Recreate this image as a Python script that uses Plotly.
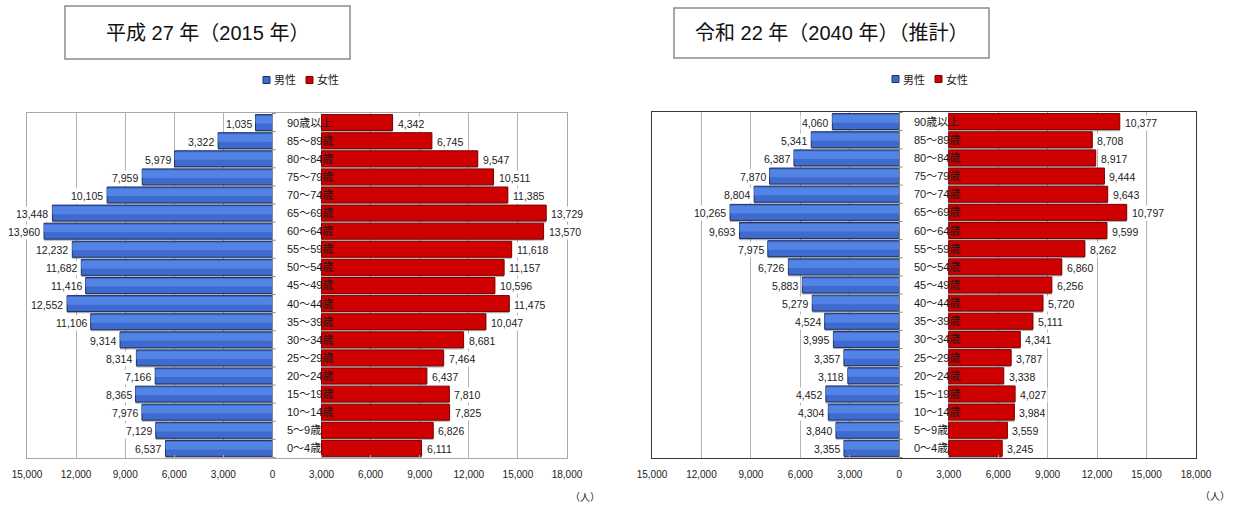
import plotly.graph_objects as go

# ---------------- data ----------------
ages = ["90歳以上", "85～89歳", "80～84歳", "75～79歳", "70～74歳", "65～69歳",
        "60～64歳", "55～59歳", "50～54歳", "45～49歳", "40～44歳", "35～39歳",
        "30～34歳", "25～29歳", "20～24歳", "15～19歳", "10～14歳", "5～9歳", "0～4歳"]

male_2015 = [1035, 3322, 5979, 7959, 10105, 13448, 13960, 12232, 11682, 11416,
             12552, 11106, 9314, 8314, 7166, 8365, 7976, 7129, 6537]
female_2015 = [4342, 6745, 9547, 10511, 11385, 13729, 13570, 11618, 11157, 10596,
               11475, 10047, 8681, 7464, 6437, 7810, 7825, 6826, 6111]

male_2040 = [4060, 5341, 6387, 7870, 8804, 10265, 9693, 7975, 6726, 5883,
             5279, 4524, 3995, 3357, 3118, 4452, 4304, 3840, 3355]
female_2040 = [10377, 8708, 8917, 9444, 9643, 10797, 9599, 8262, 6860, 6256,
               5720, 5111, 4341, 3787, 3338, 4027, 3984, 3559, 3245]

titles = ["平成 27 年（2015 年）", "令和 22 年（2040 年）（推計）"]
legend_names = ["男性", "女性"]
unit_label = "（人）"
tick_vals = [-15000, -12000, -9000, -6000, -3000, 0, 3000, 6000, 9000, 12000, 15000, 18000]
tick_text = ["15,000", "12,000", "9,000", "6,000", "3,000", "0",
             "3,000", "6,000", "9,000", "12,000", "15,000", "18,000"]
GAP = 3000          # female bars start after the central label gap
X_RANGE = [-15000, 18000]

# ---------------- styling ----------------
W, H = 1236, 509
FONT = "Liberation Sans, Arial, Noto Sans CJK JP, sans-serif"
BLUE, BLUE_HI, BLUE_LINE = "#3f6ad0", "#5383e4", "#1d3263"
RED, RED_LINE = "#cf0000", "#7a0000"

def px(x):
    return x / W

def py(y):
    return 1 - y / H

panels = [
    dict(male=male_2015, female=female_2015, xa="x", ya="y",
         xdom=[px(27), px(567)], ydom=[py(458), py(113)], frame="#a8a8a8",
         title_box=(65, 6, 350, 59), legend_x=263, legend_y=80, unit_x=585, unit_y=497),
    dict(male=male_2040, female=female_2040, xa="x2", ya="y2",
         xdom=[px(652), px(1196)], ydom=[py(458), py(112)], frame="#3a3a3a",
         title_box=(674, 8, 989, 58), legend_x=892, legend_y=79, unit_x=1215, unit_y=496),
]

fig = go.Figure()
shapes, annotations = [], []
BW = 0.88

for i, p in enumerate(panels):
    xa, ya = p["xa"], p["ya"]
    neg_male = [-v for v in p["male"]]
    # shadows
    fig.add_trace(go.Bar(y=ages, x=neg_male, orientation="h", xaxis=xa, yaxis=ya,
                         width=BW, offset=-BW / 2 + 0.09,
                         marker=dict(color="rgba(0,0,0,0.30)", line=dict(width=0)),
                         hoverinfo="skip"))
    fig.add_trace(go.Bar(y=ages, x=p["female"], base=GAP, orientation="h", xaxis=xa, yaxis=ya,
                         width=BW, offset=-BW / 2 + 0.09,
                         marker=dict(color="rgba(0,0,0,0.30)", line=dict(width=0)),
                         hoverinfo="skip"))
    # main bars
    fig.add_trace(go.Bar(y=ages, x=neg_male, orientation="h", xaxis=xa, yaxis=ya,
                         width=BW, offset=-BW / 2, name=legend_names[0],
                         marker=dict(color=BLUE, line=dict(color=BLUE_LINE, width=1))))
    fig.add_trace(go.Bar(y=ages, x=p["female"], base=GAP, orientation="h", xaxis=xa, yaxis=ya,
                         width=BW, offset=-BW / 2, name=legend_names[1],
                         marker=dict(color=RED, line=dict(color=RED_LINE, width=1))))
    # highlights (fake gradient)
    fig.add_trace(go.Bar(y=ages, x=neg_male, orientation="h", xaxis=xa, yaxis=ya,
                         width=0.42, offset=-BW / 2 + 0.08,
                         marker=dict(color=BLUE_HI, line=dict(width=0)), hoverinfo="skip"))

    # axes
    xk = "xaxis" if i == 0 else "xaxis2"
    yk = "yaxis" if i == 0 else "yaxis2"
    fig.update_layout({
        xk: dict(domain=p["xdom"], range=X_RANGE, anchor=ya, tickvals=tick_vals,
                 ticktext=tick_text, showgrid=True, gridcolor="#b4b4b4", gridwidth=1,
                 zeroline=False, showline=True, mirror=True, linecolor=p["frame"],
                 linewidth=1, ticks="inside", ticklen=3, tickcolor="#b4b4b4",
                 tickfont=dict(family=FONT, size=10, color="#222"),
                 ticklabelstandoff=7, fixedrange=True, automargin=False),
        yk: dict(domain=p["ydom"], anchor=xa, type="category", categoryorder="array",
                 categoryarray=ages, autorange="reversed", showticklabels=False,
                 showgrid=False, zeroline=False, showline=True, mirror=True,
                 linecolor=p["frame"], linewidth=1, ticks="", fixedrange=True,
                 automargin=False),
    })

    xref, yref = xa, ya
    # central category axis line with ticks
    shapes.append(dict(type="line", xref=xref, yref=f"{ya} domain", x0=0, x1=0, y0=0, y1=1,
                       line=dict(color="#8c8c8c", width=1), layer="above"))
    for k in range(len(ages) + 1):
        shapes.append(dict(type="line", xref=xref, yref=yref, x0=0, x1=200,
                           y0=k - 0.5, y1=k - 0.5, line=dict(color="#8c8c8c", width=1),
                           layer="above"))

    # data labels
    for a, m, f in zip(ages, p["male"], p["female"]):
        annotations.append(dict(xref=xref, yref=yref, x=-m, y=a, text=f"{m:,}",
                                showarrow=False, xanchor="right", xshift=-2, yshift=-1,
                                bgcolor="white", borderpad=1,
                                font=dict(family=FONT, size=10.5, color="#222")))
        annotations.append(dict(xref=xref, yref=yref, x=GAP + f, y=a, text=f"{f:,}",
                                showarrow=False, xanchor="left", xshift=3, yshift=-1,
                                bgcolor="white", borderpad=1,
                                font=dict(family=FONT, size=10.5, color="#222")))
        annotations.append(dict(xref=xref, yref=yref, x=780, y=a, text=a,
                                showarrow=False, xanchor="left",
                                font=dict(family=FONT, size=11, color="#1a1a1a")))

    # title box
    x0, y0, x1, y1 = p["title_box"]
    shapes.append(dict(type="rect", xref="paper", yref="paper", x0=px(x0), x1=px(x1),
                       y0=py(y1), y1=py(y0), line=dict(color="#8a8a8a", width=1.5),
                       fillcolor="white"))
    annotations.append(dict(xref="paper", yref="paper", x=px((x0 + x1) / 2), y=py((y0 + y1) / 2),
                            text=titles[i], showarrow=False, xanchor="center", yanchor="middle",
                            font=dict(family=FONT, size=20, color="#111")))

    # legend
    lx, ly = p["legend_x"], p["legend_y"]
    for j, (col, line) in enumerate([(BLUE, BLUE_LINE), (RED, RED_LINE)]):
        sx = lx + j * 43
        shapes.append(dict(type="rect", xref="paper", yref="paper", x0=px(sx), x1=px(sx + 7),
                           y0=py(ly + 3.5), y1=py(ly - 3.5), fillcolor=col,
                           line=dict(color=line, width=1)))
        annotations.append(dict(xref="paper", yref="paper", x=px(sx + 8.5), y=py(ly),
                                text=legend_names[j], showarrow=False, xanchor="left",
                                yanchor="middle",
                                font=dict(family=FONT, size=11, color="#222")))

    annotations.append(dict(xref="paper", yref="paper", x=px(p["unit_x"]), y=py(p["unit_y"]),
                            text=unit_label, showarrow=False, xanchor="center", yanchor="middle",
                            font=dict(family=FONT, size=10, color="#222")))

fig.update_layout(width=W, height=H, margin=dict(l=0, r=0, t=0, b=0, autoexpand=False),
                  paper_bgcolor="white", plot_bgcolor="white", showlegend=False,
                  barmode="overlay", shapes=shapes, annotations=annotations)

fig.write_html("out.html")
